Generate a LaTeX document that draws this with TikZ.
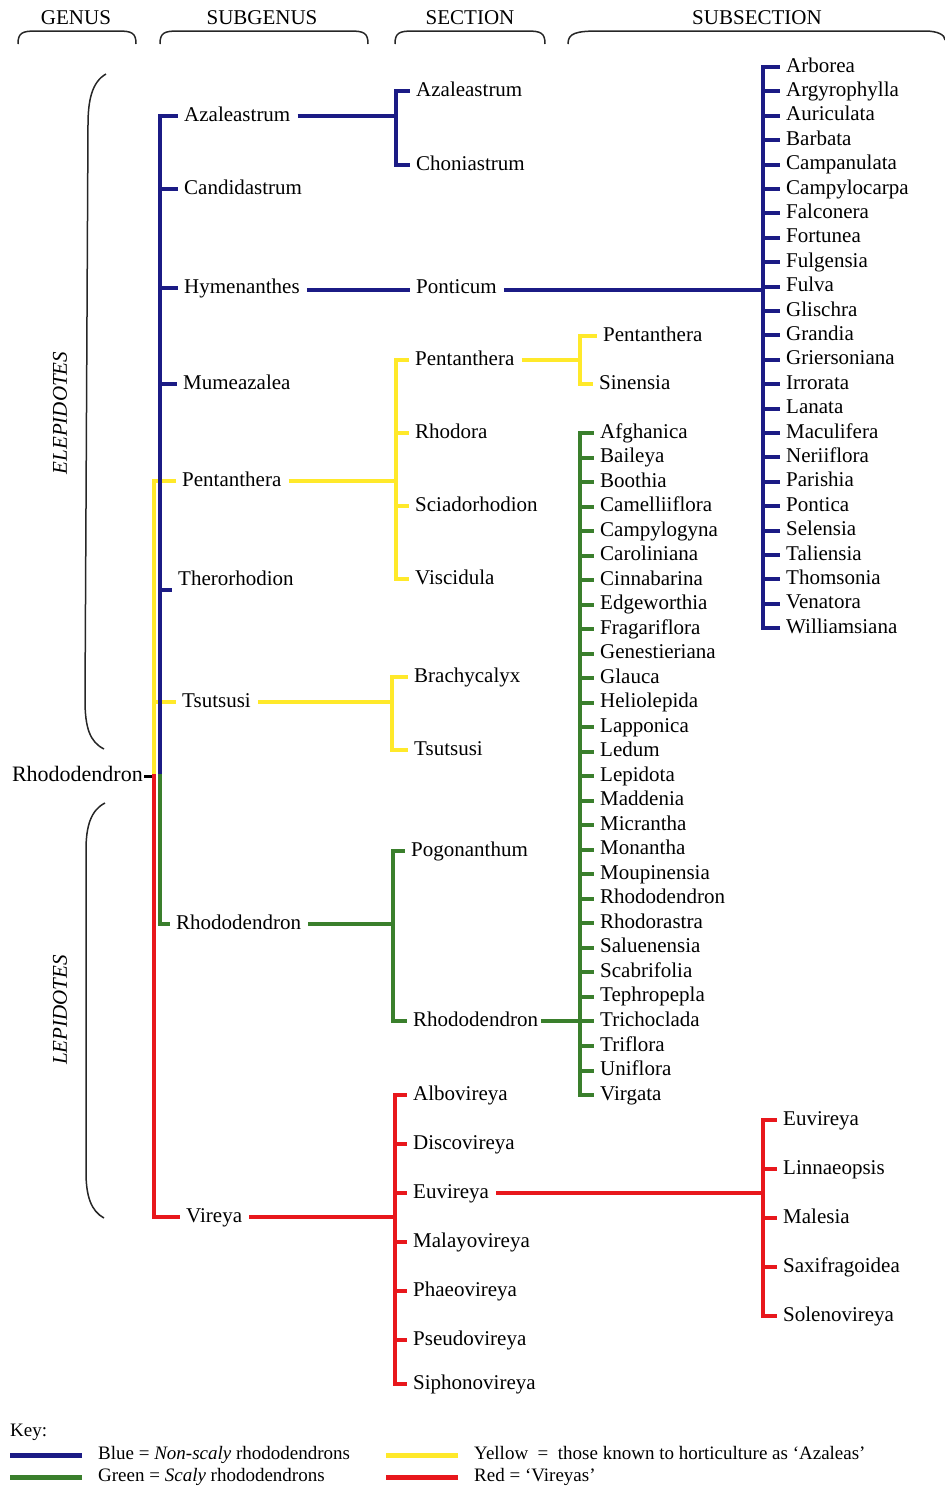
\documentclass[tikz,border=0pt]{standalone}
\usepackage{fontspec}
\setmainfont{Liberation Serif}
\usetikzlibrary{calc}
\definecolor{rhodblue}{HTML}{1B1B85}
\definecolor{rhodgreen}{HTML}{3A7F2C}
\definecolor{rhodyellow}{HTML}{FFE92A}
\definecolor{rhodred}{HTML}{E8171C}
\tikzset{
	taxontext/.style={anchor=west, inner sep=0pt, text height=14pt, text depth=4pt,
	  font=\fontsize{21}{23}\selectfont}
}
\tikzset{
	headtext/.style={font=\fontsize{21}{23}\selectfont},
	keytext/.style={anchor=west, inner sep=0pt, text height=13pt, text depth=4pt,
	  font=\fontsize{19}{21}\selectfont}
}
\tikzset{
	branch/.style={line width=4pt, shorten <=7pt, shorten >=0pt},
	spine/.style={line width=4pt, line cap=rect},
	twig/.style={line width=4pt, shorten >=6pt},
	keybar/.style={line width=5pt},
	curlybar/.style={line width=1.5pt, black!85}
}

\begin{document}
\begin{tikzpicture}[x=1pt, y=-1pt]
      \useasboundingbox (0,0) rectangle (945,1489);
      % ranks along the top
      \foreach \x/\l in {76/GENUS, 262/SUBGENUS, 470/SECTION, 757/SUBSECTION}
        \node[headtext] (h\l) at (\x,18) {\l};
      \foreach \a/\b in {18/136, 160/368, 395/545}
        \draw[curlybar] (\a,44) .. controls (\a,33) and (\a+4,31) .. (\a+18,31)
          -- (\b-18,31) .. controls (\b-4,31) and (\b,33) .. (\b,44);
      \draw[curlybar] (568,44) .. controls (568,33) and (576,31) .. (600,31)
        -- (925,31) .. controls (938,31) and (945,35) .. (945,40);
      % elepidotes / lepidotes brackets
      \draw[curlybar] (106,74) .. controls (92,82) and (88,100) .. (88,125)
        -- (85,700) .. controls (85,728) and (90,742) .. (104,749);
      \draw[curlybar] (105,803) .. controls (91,810) and (86,826) .. (86,850)
        -- (86,1172) .. controls (86,1196) and (91,1211) .. (104,1218);
      \node[rotate=90, font=\fontsize{21}{23}\selectfont\itshape] (elep) at (60,413) {ELEPIDOTES};
      \node[rotate=90, font=\fontsize{21}{23}\selectfont\itshape] (lep) at (60,1010) {LEPIDOTES};

      % genus and subgenera
      \node[taxontext, anchor=east, font=\fontsize{22}{24}\selectfont] (genus) at (143,776) {Rhododendron};
      \foreach \n/\x/\y in {Azaleastrum/184/116, Candidastrum/184/189, Hymenanthes/184/288,
        Mumeazalea/183/384, Pentanthera/182/481, Therorhodion/178/580, Tsutsusi/182/702,
        Rhododendron/176/924, Vireya/186/1217}
        \node[taxontext] (sg\n) at (\x,\y) {\n};
      \coordinate (root) at (154,776);
      \coordinate (trunk) at (160,776);
      \draw[line width=3pt, shorten <=1pt] (genus.east) -- (root);
      % yellow and red half of the trunk
      \draw[spine, rhodyellow] (root |- sgPentanthera.west) -- (root);
      \foreach \n in {Pentanthera, Tsutsusi}
        \draw[twig, rhodyellow] (root |- sg\n.west) -- (sg\n.west);
      \draw[spine, rhodred] (root) -- (root |- sgVireya.west);
      \draw[twig, rhodred] (root |- sgVireya.west) -- (sgVireya.west);
      % blue and green half of the trunk
      \draw[spine, rhodblue] (trunk |- sgAzaleastrum.west) -- (trunk);
      \foreach \n in {Azaleastrum, Candidastrum, Hymenanthes, Mumeazalea}
        \draw[twig, rhodblue] (trunk |- sg\n.west) -- (sg\n.west);
      \draw[twig, rhodblue] ([yshift=-10pt]trunk |- sgTherorhodion.west) -- ([yshift=-10pt]sgTherorhodion.west);
      \draw[spine, rhodgreen] (trunk) -- (trunk |- sgRhododendron.west);
      \draw[twig, rhodgreen] (trunk |- sgRhododendron.west) -- (sgRhododendron.west);

      % sections
      \foreach \n/\x/\y in {Azaleastrum/416/91, Choniastrum/416/165, Ponticum/416/288,
        Pentanthera/415/360, Rhodora/415/433, Sciadorhodion/415/506, Viscidula/415/579,
        Brachycalyx/414/677, Tsutsusi/414/750, Pogonanthum/411/851, Rhododendron/413/1021,
        Albovireya/413/1095, Discovireya/413/1144, Euvireya/413/1193, Malayovireya/413/1242,
        Phaeovireya/413/1291, Pseudovireya/413/1340, Siphonovireya/413/1384}
        \node[taxontext] (sec\n) at (\x,\y) {\n};
      \coordinate (jAza) at (396,0);
      \coordinate (jPen) at (396,0);
      \coordinate (jTsu) at (392,0);
      \coordinate (jRho) at (393,0);
      \coordinate (jVir) at (395,0);
      \draw[branch, rhodblue] (sgAzaleastrum.east) -- (jAza |- sgAzaleastrum.east);
      \draw[spine, rhodblue] (jAza |- secAzaleastrum.west) -- (jAza |- secChoniastrum.west);
      \foreach \n in {Azaleastrum, Choniastrum}
        \draw[twig, rhodblue] (jAza |- sec\n.west) -- (sec\n.west);
      \draw[branch, rhodblue, shorten >=6pt] ([yshift=-2pt]sgHymenanthes.east) -- ([yshift=-2pt]secPonticum.west);
      \draw[branch, rhodyellow] (sgPentanthera.east) -- (jPen |- sgPentanthera.east);
      \draw[spine, rhodyellow] (jPen |- secPentanthera.west) -- (jPen |- secViscidula.west);
      \foreach \n in {Pentanthera, Rhodora, Sciadorhodion, Viscidula}
        \draw[twig, rhodyellow] (jPen |- sec\n.west) -- (sec\n.west);
      \draw[branch, rhodyellow] (sgTsutsusi.east) -- (jTsu |- sgTsutsusi.east);
      \draw[spine, rhodyellow] (jTsu |- secBrachycalyx.west) -- (jTsu |- secTsutsusi.west);
      \foreach \n in {Brachycalyx, Tsutsusi}
        \draw[twig, rhodyellow] (jTsu |- sec\n.west) -- (sec\n.west);
      \draw[branch, rhodgreen] (sgRhododendron.east) -- (jRho |- sgRhododendron.east);
      \draw[spine, rhodgreen] (jRho |- secPogonanthum.west) -- (jRho |- secRhododendron.west);
      \foreach \n in {Pogonanthum, Rhododendron}
        \draw[twig, rhodgreen] (jRho |- sec\n.west) -- (sec\n.west);
      \draw[branch, rhodred] (sgVireya.east) -- (jVir |- sgVireya.east);
      \draw[spine, rhodred] (jVir |- secAlbovireya.west) -- (jVir |- secSiphonovireya.west);
      \foreach \n in {Albovireya, Discovireya, Euvireya, Malayovireya, Phaeovireya, Pseudovireya, Siphonovireya}
        \draw[twig, rhodred] (jVir |- sec\n.west) -- (sec\n.west);

      % subsections
      \foreach \n [count=\i from 0] in {Arborea, Argyrophylla, Auriculata, Barbata, Campanulata,
        Campylocarpa, Falconera, Fortunea, Fulgensia, Fulva, Glischra, Grandia, Griersoniana,
        Irrorata, Lanata, Maculifera, Neriiflora, Parishia, Pontica, Selensia, Taliensia,
        Thomsonia, Venatora, Williamsiana}
        \node[taxontext] (sub\n) at (786,67+24.4*\i) {\n};
      \foreach \n/\x/\y in {Pentanthera/603/336, Sinensia/599/384}
        \node[taxontext] (sub\n) at (\x,\y) {\n};
      \foreach \n [count=\i from 0] in {Afghanica, Baileya, Boothia, Camelliiflora, Campylogyna,
        Caroliniana, Cinnabarina, Edgeworthia, Fragariflora, Genestieriana, Glauca, Heliolepida,
        Lapponica, Ledum, Lepidota, Maddenia, Micrantha, Monantha, Moupinensia, Rhododendron,
        Rhodorastra, Saluenensia, Scabrifolia, Tephropepla, Trichoclada, Triflora, Uniflora, Virgata}
        \node[taxontext] (sub\n) at (600,433+24.52*\i) {\n};
      \foreach \n [count=\i from 0] in {Euvireya, Linnaeopsis, Malesia, Saxifragoidea, Solenovireya}
        \node[taxontext] (sub\n) at (783,1120+49*\i) {\n};
      \coordinate (jPon) at (763,0);
      \coordinate (jSec) at (580,0);
      \coordinate (jEuv) at (763,0);
      \draw[branch, rhodblue] ([yshift=-2pt]secPonticum.east) -- ([yshift=-2pt]jPon |- secPonticum.east);
      \draw[spine, rhodblue] (jPon |- subArborea.west) -- (jPon |- subWilliamsiana.west);
      \foreach \n in {Arborea, Argyrophylla, Auriculata, Barbata, Campanulata, Campylocarpa,
        Falconera, Fortunea, Fulgensia, Fulva, Glischra, Grandia, Griersoniana, Irrorata, Lanata,
        Maculifera, Neriiflora, Parishia, Pontica, Selensia, Taliensia, Thomsonia, Venatora, Williamsiana}
        \draw[twig, rhodblue] (jPon |- sub\n.west) -- (sub\n.west);
      \draw[branch, rhodyellow] (secPentanthera.east) -- (jSec |- secPentanthera.east);
      \draw[spine, rhodyellow] (jSec |- subPentanthera.west) -- (jSec |- subSinensia.west);
      \foreach \n in {Pentanthera, Sinensia}
        \draw[twig, rhodyellow] (jSec |- sub\n.west) -- (sub\n.west);
      \draw[branch, rhodgreen, shorten <=3pt] (secRhododendron.east) -- (jSec |- secRhododendron.east);
      \draw[spine, rhodgreen] (jSec |- subAfghanica.west) -- (jSec |- subVirgata.west);
      \foreach \n in {Afghanica, Baileya, Boothia, Camelliiflora, Campylogyna, Caroliniana,
        Cinnabarina, Edgeworthia, Fragariflora, Genestieriana, Glauca, Heliolepida, Lapponica,
        Ledum, Lepidota, Maddenia, Micrantha, Monantha, Moupinensia, Rhododendron, Rhodorastra,
        Saluenensia, Scabrifolia, Tephropepla, Trichoclada, Triflora, Uniflora, Virgata}
        \draw[twig, rhodgreen] (jSec |- sub\n.west) -- (sub\n.west);
      \draw[branch, rhodred] (secEuvireya.east) -- (jEuv |- secEuvireya.east);
      \draw[spine, rhodred] (jEuv |- subEuvireya.west) -- (jEuv |- subSolenovireya.west);
      \foreach \n in {Euvireya, Linnaeopsis, Malesia, Saxifragoidea, Solenovireya}
        \draw[twig, rhodred] (jEuv |- sub\n.west) -- (sub\n.west);

      % key
      \node[keytext] (key) at (10,1432) {Key:};
      \node[keytext] (keyBlue) at (98,1455) {Blue = \textit{Non-scaly} rhododendrons};
      \node[keytext] (keyGreen) at (98,1477) {Green = \textit{Scaly} rhododendrons};
      \node[keytext] (keyYellow) at (474,1455) {Yellow\ \ =\ \ those known to horticulture as ‘Azaleas’};
      \node[keytext] (keyRed) at (474,1477) {Red = ‘Vireyas’};
      \foreach \k/\c in {Blue/rhodblue, Green/rhodgreen, Yellow/rhodyellow, Red/rhodred}
        \draw[keybar, \c] ([xshift=-16pt]key\k.west) -- ++(-72,0);
\end{tikzpicture}
\end{document}
